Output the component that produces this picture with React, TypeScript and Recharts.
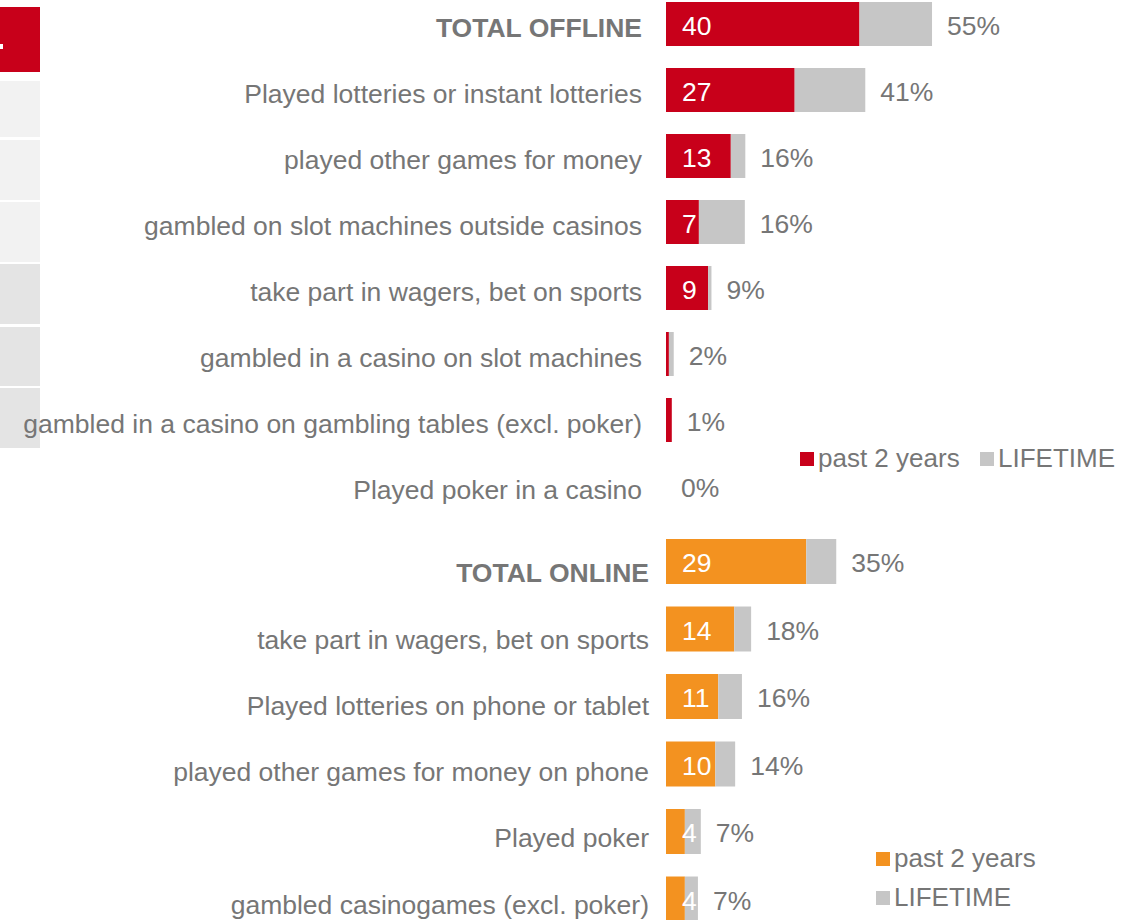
import { Bar, BarChart, LabelList, XAxis, YAxis } from 'recharts'

const offlineCategories = [
  'TOTAL OFFLINE',
  'Played lotteries or instant lotteries',
  'played other games for money',
  'gambled on slot machines outside casinos',
  'take part in wagers, bet on sports',
  'gambled in a casino on slot machines',
  'gambled in a casino on gambling tables (excl. poker)',
  'Played poker in a casino',
]
const offlinePast2y = [40, 26.6, 13.4, 6.8, 8.7, 0.6, 1.2, 0]
const offlineLifetime = [55, 41.2, 16.4, 16.3, 9.4, 1.6, 1.2, 0]

const onlineCategories = [
  'TOTAL ONLINE',
  'take part in wagers, bet on sports',
  'Played lotteries on phone or tablet',
  'played other games for money on phone',
  'Played poker',
  'gambled casinogames (excl. poker)',
]
const onlinePast2y = [29, 14.1, 10.8, 10.2, 3.9, 3.9]
const onlineLifetime = [35.2, 17.6, 15.7, 14.3, 7.2, 6.6]

const RED = '#c8001a'
const ORANGE = '#f39220'
const GREY = '#c6c6c6'
const TEXT = '#767676'
const FONT = '"Liberation Sans", Arial, sans-serif'

const buildRows = (cats: string[], past: number[], life: number[]) =>
  cats.map((name, i) => ({
    name,
    past2y: past[i],
    lifetime: life[i],
    rest: Math.max(0, life[i] - past[i]),
  }))

// category labels sit a little below the bar centre; online ones drift upward row by row
const CategoryTick = ({ x, y, payload, index, dy, drift }: any) => (
  <text
    x={x}
    y={y + dy - drift * index}
    textAnchor="end"
    fill={TEXT}
    fontSize={26.5}
    fontFamily={FONT}
    fontWeight={String(payload.value).startsWith('TOTAL') ? 'bold' : 'normal'}
  >
    {payload.value}
  </text>
)

// number inside the coloured bar
const InsideLabel = ({ x, y, height, value }: any) => {
  if (value < 3) return null
  return (
    <text x={x + 16} y={y + height / 2 + 10.5} fill="#fff" fontSize={26.5} fontFamily={FONT}>
      {Math.round(value)}
    </text>
  )
}

// percentage after the grey lifetime bar
const OuterLabel = ({ x, y, width, height, value }: any) => (
  <text x={x + width + 15} y={y + height / 2 + 10.5} fill={TEXT} fontSize={26.5} fontFamily={FONT}>
    {Math.round(value)}%
  </text>
)

const Panel = ({ rows, color, top, height, barSize, tickMargin, tickDy, drift }: any) => (
  <div style={{ position: 'absolute', left: 0, top }}>
    <BarChart
      width={1140}
      height={height}
      data={rows}
      layout="vertical"
      margin={{ top: 0, right: 0, bottom: 0, left: 0 }}
      barSize={barSize}
    >
      <XAxis type="number" hide domain={[0, 98]} />
      <YAxis
        type="category"
        dataKey="name"
        width={666}
        axisLine={false}
        tickLine={false}
        tickSize={0}
        tickMargin={tickMargin}
        interval={0}
        tick={(p: any) => <CategoryTick {...p} dy={tickDy} drift={drift} />}
      />
      <Bar dataKey="past2y" stackId="a" fill={color} isAnimationActive={false}>
        <LabelList dataKey="past2y" content={InsideLabel} />
      </Bar>
      <Bar dataKey="rest" stackId="a" fill={GREY} minPointSize={0.01} isAnimationActive={false}>
        <LabelList dataKey="lifetime" content={OuterLabel} />
      </Bar>
    </BarChart>
  </div>
)

const LegendItem = ({ left, top, color, label }: any) => (
  <div
    style={{
      position: 'absolute',
      left,
      top,
      display: 'flex',
      alignItems: 'center',
      fontFamily: FONT,
      fontSize: 26,
      color: TEXT,
      lineHeight: '30px',
      whiteSpace: 'nowrap',
    }}
  >
    <span style={{ width: 14, height: 14, background: color, marginRight: 4, marginTop: 2 }} />
    {label}
  </div>
)

const leftBoxes = [
  { top: 81, h: 56, c: '#f2f2f2' },
  { top: 140, h: 60, c: '#f2f2f2' },
  { top: 202, h: 60, c: '#f2f2f2' },
  { top: 264, h: 60, c: '#e4e4e4' },
  { top: 327, h: 59, c: '#e4e4e4' },
  { top: 388, h: 60, c: '#e4e4e4' },
]

export default function App() {
  const offline = buildRows(offlineCategories, offlinePast2y, offlineLifetime)
  const online = buildRows(onlineCategories, onlinePast2y, onlineLifetime)

  return (
    <div
      style={{
        position: 'absolute',
        left: 0,
        top: 0,
        width: 1140,
        height: 920,
        overflow: 'hidden',
        background: '#fff',
      }}
    >
      {/* cut-off panel on the left edge */}
      <div style={{ position: 'absolute', left: 0, top: 7, width: 40, height: 65, background: RED }} />
      <div style={{ position: 'absolute', left: 0, top: 44, width: 3, height: 5, background: '#fff' }} />
      {leftBoxes.map((b, i) => (
        <div
          key={i}
          style={{ position: 'absolute', left: 0, top: b.top, width: 40, height: b.h, background: b.c }}
        />
      ))}

      <Panel rows={offline} color={RED} top={-9} height={528} barSize={44} tickMargin={24} tickDy={12.5} drift={0} />
      <Panel rows={online} color={ORANGE} top={528} height={405} barSize={45} tickMargin={17} tickDy={20.5} drift={1.25} />

      <LegendItem left={800} top={443} color={RED} label="past 2 years" />
      <LegendItem left={980} top={443} color={GREY} label="LIFETIME" />
      <LegendItem left={876} top={843} color={ORANGE} label="past 2 years" />
      <LegendItem left={876} top={882} color={GREY} label="LIFETIME" />
    </div>
  )
}
